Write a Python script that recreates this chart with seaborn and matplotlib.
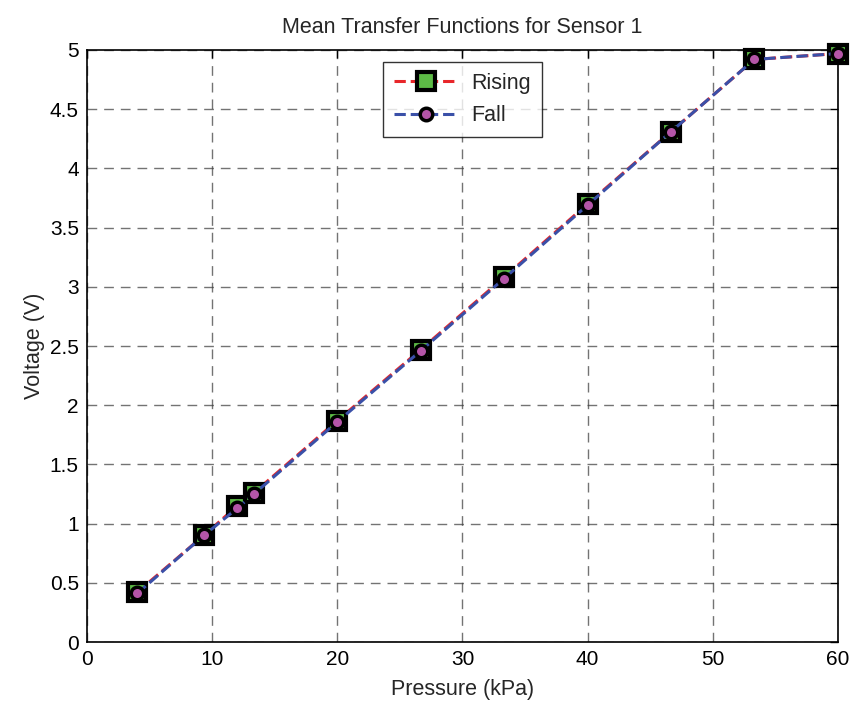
import numpy as np
import pandas as pd
import matplotlib
matplotlib.use("Agg")
import matplotlib.pyplot as plt
import seaborn as sns

# data
pressure = [4, 9.33, 12, 13.33, 20, 26.67, 33.33, 40, 46.67, 53.33, 60]
rising = [0.42, 0.90, 1.15, 1.26, 1.87, 2.47, 3.08, 3.70, 4.31, 4.92, 4.97]
fall = [0.41, 0.90, 1.13, 1.25, 1.86, 2.46, 3.07, 3.69, 4.31, 4.92, 4.97]

df = pd.DataFrame({"Pressure": pressure, "Rising": rising, "Fall": fall})

sns.set_style("white")
plt.rcParams["font.family"] = ["Liberation Sans", "DejaVu Sans"]

fig = plt.figure(figsize=(8.54, 7.04), dpi=100)
ax = fig.add_axes([0.102, 0.088, 0.879, 0.841])

sns.lineplot(data=df, x="Pressure", y="Rising", ax=ax, color="#e8262a",
             linestyle="--", linewidth=2.2, marker="s", markersize=13.5,
             markerfacecolor="#5dbb46", markeredgecolor="black",
             markeredgewidth=3, label="Rising", clip_on=False, zorder=3)
sns.lineplot(data=df, x="Pressure", y="Fall", ax=ax, color="#3a50a8",
             linestyle="--", linewidth=2.2, marker="o", markersize=9,
             markerfacecolor="#b455a8", markeredgecolor="black",
             markeredgewidth=2.5, label="Fall", clip_on=False, zorder=4)

ax.set_xlim(0, 60)
ax.set_ylim(0, 5)
ax.set_xticks(np.arange(0, 61, 10))
ax.set_yticks(np.arange(0, 5.01, 0.5))
ax.set_yticklabels(["0", "0.5", "1", "1.5", "2", "2.5", "3", "3.5", "4", "4.5", "5"])
ax.grid(True, color="#444444", linestyle=(0, (7, 5)), linewidth=1.0, alpha=0.75)
ax.tick_params(direction="in", top=True, right=True, length=6, width=1,
               labelsize=15, colors="black", pad=6)
for s in ax.spines.values():
    s.set_color("black")
    s.set_linewidth(1.2)

ax.set_xlabel("Pressure (kPa)", fontsize=15.5, labelpad=7)
ax.set_ylabel("Voltage (V)", fontsize=15.5, labelpad=3)
ax.set_title("Mean Transfer Functions for Sensor 1", fontsize=15.5, pad=12)

leg = ax.legend(loc="upper center", bbox_to_anchor=(0.5, 0.98), fontsize=15.5,
                frameon=True, fancybox=False, edgecolor="black",
                handlelength=3.0, borderpad=0.5, labelspacing=0.55,
                handletextpad=0.6, borderaxespad=0)
leg.get_frame().set_linewidth(1)

fig.savefig("out.png", dpi=100)
